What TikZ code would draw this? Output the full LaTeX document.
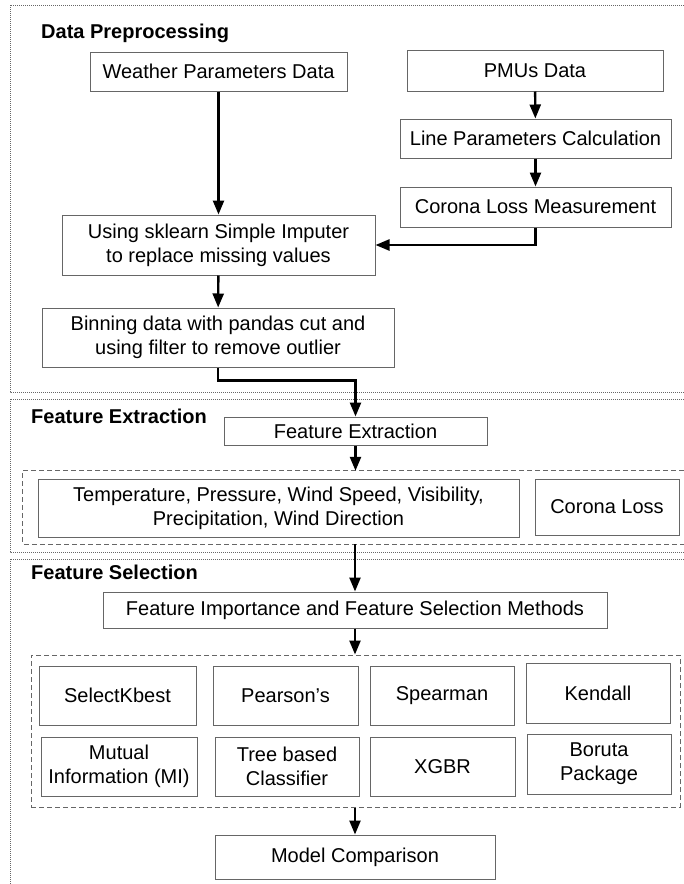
\documentclass[tikz,border=0pt]{standalone}
\usepackage{fontspec}
\setmainfont{Liberation Sans}
\usetikzlibrary{arrows.meta}
\colorlet{boxcol}{black!60}
\tikzstyle{box}=[draw=boxcol,line width=1pt,align=center,inner sep=2pt,
font=\fontsize{20}{24}\selectfont]
\tikzstyle{title}=[anchor=west,inner sep=0pt,font=\fontsize{20}{24}\selectfont\bfseries]
\tikzstyle{arr}=[-{Triangle[length=14pt,width=11pt]},line width=2.4pt]
\tikzstyle{frame}=[draw=boxcol,line width=1pt,dash pattern=on 1pt off 1pt]
\tikzstyle{grp}=[draw=boxcol,line width=1pt,dash pattern=on 5pt off 3pt]

\begin{document}
\begin{tikzpicture}[x=1pt,y=-1pt]
  \useasboundingbox (0,0) rectangle (684,884);
  % Frames
  \draw[frame] (684,5) -- (10,5) -- (10,392) -- (684,392);
  \draw[frame] (684,399) -- (10,399) -- (10,552) -- (684,552);
  \draw[frame] (684,559) -- (10,559) -- (10,884);
  \node[title] (tpre) at (41,33) {Data Preprocessing};
  \node[title] (text) at (31,416) {Feature Extraction};
  \node[title] (tsel) at (31,572) {Feature Selection};
  % Data preprocessing
  \node[box,minimum width=257pt,minimum height=39pt] (weather) at (218.5,71.5) {Weather Parameters Data};
  \node[box,minimum width=256pt,minimum height=41pt] (pmu) at (535,70.5) {PMUs Data};
  \node[box,minimum width=271pt,minimum height=39pt] (line) at (535.5,138.5) {Line Parameters Calculation};
  \node[box,minimum width=271pt,minimum height=40pt] (corona) at (535.5,207) {Corona Loss Measurement};
  \node[box,minimum width=313pt,minimum height=60pt] (imputer) at (218.5,245)
    {Using sklearn Simple Imputer\\to replace missing values};
  \node[box,minimum width=352pt,minimum height=59pt] (binning) at (218,337.5)
    {Binning data with pandas cut and\\using filter to remove outlier};
  % Feature extraction
  \node[box,minimum width=263pt,minimum height=28pt] (fe) at (355.5,431) {Feature Extraction};
  \node[minimum width=661pt,minimum height=73pt] (feats) at (353.5,507.5) {};
  \draw[grp] (feats.north east) -- (feats.north west) -- (feats.south west) -- (feats.south east);
  \node[box,minimum width=481pt,minimum height=58pt] (weatherfeats) at (278.5,508)
    {Temperature, Pressure, Wind Speed, Visibility,\\Precipitation, Wind Direction};
  \node[box,minimum width=144pt,minimum height=56pt] (closs) at (607,507) {Corona Loss};
  % Feature selection
  \node[box,minimum width=504pt,minimum height=36pt] (fims) at (355,610)
    {Feature Importance and Feature Selection Methods};
  \node[grp,minimum width=649pt,minimum height=152pt] (methods) at (355.5,731) {};
  \node[box,minimum width=157pt,minimum height=59pt] (kbest) at (117.5,695.5) {SelectKbest};
  \node[box,minimum width=145pt,minimum height=59pt] (pearson) at (285.5,695.5) {Pearson’s};
  \node[box,minimum width=144pt,minimum height=59pt] (spearman) at (442,695.5) {Spearman};
  \node[box,minimum width=144pt,minimum height=60pt] (kendall) at (598,693) {Kendall};
  \node[box,minimum width=156pt,minimum height=59pt] (mi) at (119,766.5) {Mutual\\Information (MI)};
  \node[box,minimum width=144pt,minimum height=59pt] (tree) at (287,766.5) {Tree based\\Classifier};
  \node[box,minimum width=145pt,minimum height=59pt] (xgbr) at (442.5,766.5) {XGBR};
  \node[box,minimum width=144pt,minimum height=60pt] (boruta) at (599,764) {Boruta\\Package};
  \node[box,minimum width=280pt,minimum height=44pt] (mc) at (355,857) {Model Comparison};
  % Arrows
  \draw[arr] (weather) -- (imputer);
  \draw[arr] (pmu) -- (line);
  \draw[arr] (line) -- (corona);
  \draw[arr] (corona.south) |- (imputer.east);
  \draw[arr] (imputer) -- (binning);
  \draw[arr] (binning.south) -- ++(0,13) -| (fe.north);
  \draw[arr] (fe.south) -- (fe.south |- feats.north);
  \draw[arr] (fims.north |- feats.south) -- (fims.north);
  \draw[arr] (fims.south) -- (fims.south |- methods.north);
  \draw[arr] (mc.north |- methods.south) -- (mc.north);
\end{tikzpicture}
\end{document}
